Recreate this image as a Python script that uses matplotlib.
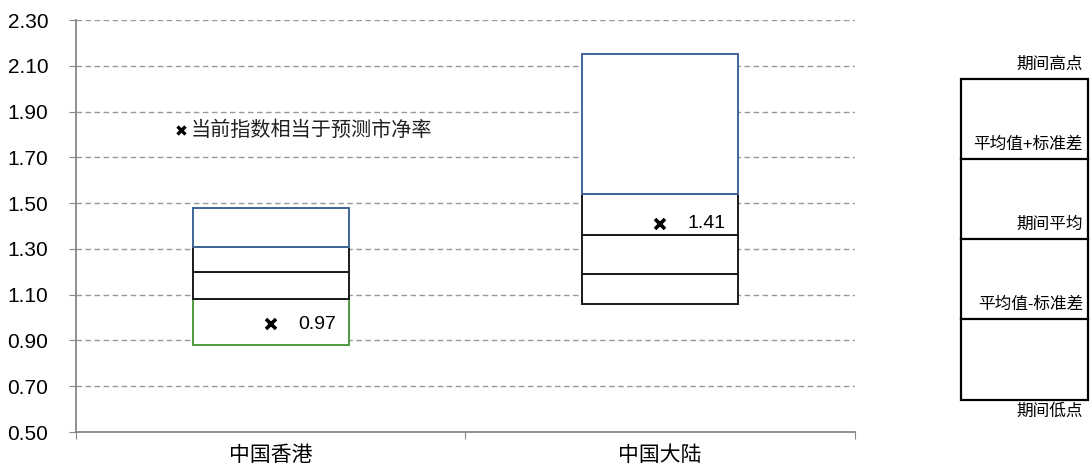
import numpy as np
import matplotlib.pyplot as plt
from matplotlib.patches import Rectangle

plt.rcParams['font.family'] = ['Liberation Sans', 'Noto Sans CJK SC', 'DejaVu Sans']

# 市净率区间：期间低点 / 平均值-标准差 / 期间平均 / 平均值+标准差 / 期间高点
markets = ['中国香港', '中国大陆']
pb_low = [0.88, 1.06]
pb_mean_minus_std = [1.08, 1.19]
pb_mean = [1.20, 1.36]
pb_mean_plus_std = [1.31, 1.54]
pb_high = [1.48, 2.15]
pb_current = [0.97, 1.41]

# 每段边框颜色（自下而上）
seg_colors = [
    ['#4e9a3e', '#1a1a1a', '#1a1a1a', '#3d6597'],
    ['#1a1a1a', '#1a1a1a', '#1a1a1a', '#3d6597'],
]

y_ticks = np.arange(0.50, 2.31, 0.20)

fig = plt.figure(figsize=(10.91, 4.70), dpi=100)
ax = fig.add_axes([76 / 1091, 38 / 470, 779 / 1091, 412 / 470])

x_pos = np.arange(len(markets)) + 0.5
width = 0.40
for i, x in enumerate(x_pos):
    levels = [pb_low[i], pb_mean_minus_std[i], pb_mean[i], pb_mean_plus_std[i], pb_high[i]]
    for k in range(4):
        ax.add_patch(Rectangle((x - width / 2, levels[k]), width, levels[k + 1] - levels[k],
                               facecolor='white', edgecolor=seg_colors[i][k], linewidth=1.4, zorder=3))
    ax.plot(x, pb_current[i], marker='x', color='black', markersize=7, mew=2.6, zorder=4)
    ax.text(x + 0.07, pb_current[i], f'{pb_current[i]:.2f}', fontsize=14, va='center', ha='left', zorder=5)

# 图例说明
ax.plot(0.27, 1.82, marker='x', color='black', markersize=6, mew=2.4)
ax.text(0.295, 1.82, '当前指数相当于预测市净率', fontsize=14.5, va='center', ha='left', color='#222222')

ax.set_xlim(0, 2)
ax.set_ylim(0.50, 2.30)
ax.set_yticks(y_ticks)
ax.set_yticklabels([f'{v:.2f}' for v in y_ticks], fontsize=15)
ax.set_xticks([0, 1, 2])
ax.set_xticklabels([])
ax.set_xticks(x_pos, minor=True)
ax.set_xticklabels(markets, minor=True, fontsize=15)
ax.tick_params(axis='x', which='minor', length=0, pad=10)
ax.tick_params(axis='x', which='major', length=5, color='#888888', direction='out')
ax.tick_params(axis='y', length=5, color='#888888', direction='out', pad=15)
ax.yaxis.grid(True, linestyle=(0, (4, 2.5)), color='#999999', linewidth=1)
ax.set_axisbelow(True)
for s in ['top', 'right']:
    ax.spines[s].set_visible(False)
for s in ['left', 'bottom']:
    ax.spines[s].set_color('#888888')
    ax.spines[s].set_linewidth(1.3)

# 右侧示意框
lg = fig.add_axes([0, 0, 1, 1])
lg.set_xlim(0, 1091)
lg.set_ylim(470, 0)
lg.axis('off')
lg.add_patch(Rectangle((961, 79), 127, 321, facecolor='white', edgecolor='black', linewidth=1.6))
for yy in [159, 239, 319]:
    lg.plot([961, 1088], [yy, yy], color='black', linewidth=1.6)
legend_labels = ['期间高点', '平均值+标准差', '期间平均', '平均值-标准差', '期间低点']
legend_y = [64, 144, 224, 304, 411]
for lab, yy in zip(legend_labels, legend_y):
    lg.text(1083, yy, lab, fontsize=12, ha='right', va='center')

fig.savefig('out.png', dpi=100)
